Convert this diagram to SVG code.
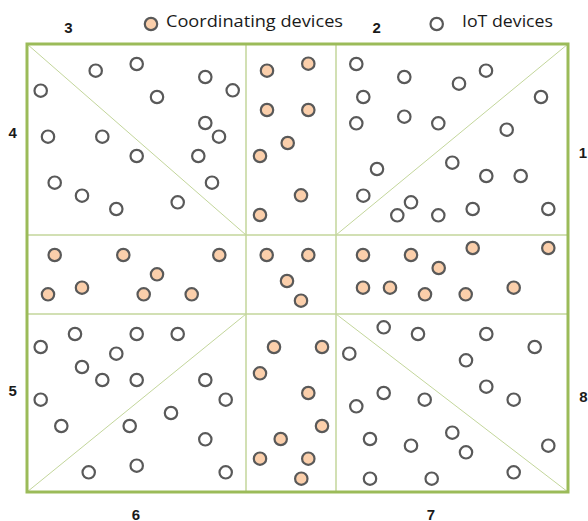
<svg xmlns="http://www.w3.org/2000/svg" width="588" height="521" viewBox="0 0 588 521">
<style>
.io{fill:#ffffff;stroke:#595959;stroke-width:2.2}
.co{fill:#fbcfab;stroke:#595959;stroke-width:2.2}
.lab{font-family:"Liberation Sans",Arial,sans-serif;font-weight:bold;font-size:15px;fill:#1a1a1a;text-anchor:middle}
.leg{font-family:"Open Sans","Liberation Sans",sans-serif;font-size:16px;fill:#1a1a1a}
.inner{stroke:#c3d69b;stroke-width:1.5;fill:none}
.diag{stroke:#c3d69b;stroke-width:1;fill:none}
</style>
<rect width="588" height="521" fill="#ffffff"/>
<g id="connectors">
<line class="diag" x1="27" y1="44" x2="246" y2="235"/>
<line class="diag" x1="336" y1="235" x2="568" y2="44"/>
<line class="diag" x1="27" y1="492" x2="246" y2="314"/>
<line class="diag" x1="336" y1="314" x2="568" y2="492"/>
<line class="inner" x1="246" y1="44" x2="246" y2="492"/>
<line class="inner" x1="336" y1="44" x2="336" y2="492"/>
<line class="inner" x1="27" y1="235" x2="568" y2="235"/>
<line class="inner" x1="27" y1="314" x2="568" y2="314"/>
<rect x="27" y="44" width="541" height="448" fill="none" stroke="#9bbb59" stroke-width="3"/>
</g>
<g id="legend">
<circle class="co" cx="151" cy="24" r="6.2"/>
<text class="leg" x="166" y="26.5" textLength="177" lengthAdjust="spacingAndGlyphs">Coordinating devices</text>
<circle class="io" cx="436.7" cy="24" r="6.2"/>
<text class="leg" x="462" y="26.5" textLength="91" lengthAdjust="spacingAndGlyphs">IoT devices</text>
</g>
<g id="labels">
<text class="lab" x="68.3" y="32.5">3</text>
<text class="lab" x="376.7" y="32.5">2</text>
<text class="lab" x="12.7" y="138">4</text>
<text class="lab" x="583" y="158">1</text>
<text class="lab" x="12.7" y="395.5">5</text>
<text class="lab" x="583.3" y="401.5">8</text>
<text class="lab" x="136" y="519.5">6</text>
<text class="lab" x="431" y="519.5">7</text>
</g>
<g id="region3">
<circle class="io" cx="95.7" cy="70.7" r="6.2"/>
<circle class="io" cx="136.7" cy="64" r="6.2"/>
<circle class="io" cx="40.7" cy="90.7" r="6.2"/>
<circle class="io" cx="157" cy="97" r="6.2"/>
<circle class="io" cx="205.3" cy="77" r="6.2"/>
<circle class="io" cx="232.7" cy="90.3" r="6.2"/>
<circle class="io" cx="48" cy="136.7" r="6.2"/>
<circle class="io" cx="102.3" cy="136.7" r="6.2"/>
<circle class="io" cx="205.3" cy="123" r="6.2"/>
<circle class="io" cx="219" cy="136.7" r="6.2"/>
<circle class="io" cx="136.7" cy="156" r="6.2"/>
<circle class="io" cx="198.3" cy="156" r="6.2"/>
<circle class="io" cx="54.7" cy="182.7" r="6.2"/>
<circle class="io" cx="212" cy="182.7" r="6.2"/>
<circle class="io" cx="82" cy="195.7" r="6.2"/>
<circle class="io" cx="116.3" cy="209" r="6.2"/>
<circle class="io" cx="177.7" cy="202.3" r="6.2"/>
</g>
<g id="coord-top">
<circle class="co" cx="267" cy="70.7" r="6.2"/>
<circle class="co" cx="308.3" cy="63.7" r="6.2"/>
<circle class="co" cx="267" cy="110" r="6.2"/>
<circle class="co" cx="308.3" cy="110" r="6.2"/>
<circle class="co" cx="287.7" cy="143" r="6.2"/>
<circle class="co" cx="260" cy="156" r="6.2"/>
<circle class="co" cx="301" cy="195.3" r="6.2"/>
<circle class="co" cx="260" cy="215" r="6.2"/>
</g>
<g id="region2-1">
<circle class="io" cx="356.3" cy="64" r="6.2"/>
<circle class="io" cx="404.3" cy="77" r="6.2"/>
<circle class="io" cx="459" cy="83.7" r="6.2"/>
<circle class="io" cx="486" cy="70.7" r="6.2"/>
<circle class="io" cx="363.3" cy="97" r="6.2"/>
<circle class="io" cx="541" cy="97" r="6.2"/>
<circle class="io" cx="356.3" cy="123.3" r="6.2"/>
<circle class="io" cx="404.3" cy="116.7" r="6.2"/>
<circle class="io" cx="438.3" cy="123.3" r="6.2"/>
<circle class="io" cx="506.7" cy="129.7" r="6.2"/>
<circle class="io" cx="377" cy="169" r="6.2"/>
<circle class="io" cx="452.3" cy="162.7" r="6.2"/>
<circle class="io" cx="486.3" cy="176" r="6.2"/>
<circle class="io" cx="520.7" cy="176" r="6.2"/>
<circle class="io" cx="363.3" cy="195.7" r="6.2"/>
<circle class="io" cx="411" cy="202.3" r="6.2"/>
<circle class="io" cx="397.3" cy="215.3" r="6.2"/>
<circle class="io" cx="438.3" cy="215.3" r="6.2"/>
<circle class="io" cx="472.7" cy="209" r="6.2"/>
<circle class="io" cx="548.3" cy="209" r="6.2"/>
</g>
<g id="coord-middle">
<circle class="co" cx="54.7" cy="255" r="6.2"/>
<circle class="co" cx="123.3" cy="255" r="6.2"/>
<circle class="co" cx="219.3" cy="255" r="6.2"/>
<circle class="co" cx="157" cy="274.3" r="6.2"/>
<circle class="co" cx="48" cy="294.3" r="6.2"/>
<circle class="co" cx="82" cy="287.7" r="6.2"/>
<circle class="co" cx="143.7" cy="294.3" r="6.2"/>
<circle class="co" cx="191.7" cy="294.3" r="6.2"/>
<circle class="co" cx="266.7" cy="255" r="6.2"/>
<circle class="co" cx="308.3" cy="255" r="6.2"/>
<circle class="co" cx="287" cy="281" r="6.2"/>
<circle class="co" cx="301" cy="300.7" r="6.2"/>
<circle class="co" cx="363" cy="255" r="6.2"/>
<circle class="co" cx="411" cy="255" r="6.2"/>
<circle class="co" cx="472.7" cy="248" r="6.2"/>
<circle class="co" cx="548.3" cy="248" r="6.2"/>
<circle class="co" cx="438.7" cy="268" r="6.2"/>
<circle class="co" cx="363" cy="287.7" r="6.2"/>
<circle class="co" cx="390" cy="287.7" r="6.2"/>
<circle class="co" cx="425" cy="294.3" r="6.2"/>
<circle class="co" cx="465.7" cy="294.3" r="6.2"/>
<circle class="co" cx="513.7" cy="287.7" r="6.2"/>
</g>
<g id="region5-6">
<circle class="io" cx="75" cy="334" r="6.2"/>
<circle class="io" cx="136.7" cy="334" r="6.2"/>
<circle class="io" cx="177.7" cy="334" r="6.2"/>
<circle class="io" cx="40.7" cy="347" r="6.2"/>
<circle class="io" cx="116.3" cy="353.7" r="6.2"/>
<circle class="io" cx="82" cy="367" r="6.2"/>
<circle class="io" cx="102.3" cy="380" r="6.2"/>
<circle class="io" cx="136.7" cy="380" r="6.2"/>
<circle class="io" cx="205.3" cy="380" r="6.2"/>
<circle class="io" cx="40.7" cy="399.7" r="6.2"/>
<circle class="io" cx="225.7" cy="399.7" r="6.2"/>
<circle class="io" cx="61.3" cy="426" r="6.2"/>
<circle class="io" cx="129.7" cy="426" r="6.2"/>
<circle class="io" cx="171" cy="413" r="6.2"/>
<circle class="io" cx="205.3" cy="439.3" r="6.2"/>
<circle class="io" cx="88.7" cy="472.3" r="6.2"/>
<circle class="io" cx="136.7" cy="465.7" r="6.2"/>
<circle class="io" cx="225.7" cy="472.3" r="6.2"/>
</g>
<g id="coord-bottom">
<circle class="co" cx="274" cy="347" r="6.2"/>
<circle class="co" cx="322" cy="347" r="6.2"/>
<circle class="co" cx="260" cy="373.3" r="6.2"/>
<circle class="co" cx="308.3" cy="393" r="6.2"/>
<circle class="co" cx="322" cy="426" r="6.2"/>
<circle class="co" cx="280.7" cy="439" r="6.2"/>
<circle class="co" cx="260" cy="458.7" r="6.2"/>
<circle class="co" cx="308.3" cy="458.7" r="6.2"/>
<circle class="co" cx="301.3" cy="478.7" r="6.2"/>
</g>
<g id="region7-8">
<circle class="io" cx="383.7" cy="327.3" r="6.2"/>
<circle class="io" cx="418" cy="334" r="6.2"/>
<circle class="io" cx="486.3" cy="334" r="6.2"/>
<circle class="io" cx="534.7" cy="347" r="6.2"/>
<circle class="io" cx="349.3" cy="353.7" r="6.2"/>
<circle class="io" cx="466" cy="360.3" r="6.2"/>
<circle class="io" cx="383.7" cy="393" r="6.2"/>
<circle class="io" cx="486.3" cy="386.7" r="6.2"/>
<circle class="io" cx="356.3" cy="406.3" r="6.2"/>
<circle class="io" cx="424.7" cy="399.7" r="6.2"/>
<circle class="io" cx="513.7" cy="399.7" r="6.2"/>
<circle class="io" cx="370" cy="439" r="6.2"/>
<circle class="io" cx="411" cy="445.7" r="6.2"/>
<circle class="io" cx="452.3" cy="432.7" r="6.2"/>
<circle class="io" cx="466" cy="452.3" r="6.2"/>
<circle class="io" cx="548.3" cy="445.7" r="6.2"/>
<circle class="io" cx="370" cy="478.7" r="6.2"/>
<circle class="io" cx="431.7" cy="478.7" r="6.2"/>
<circle class="io" cx="513.7" cy="472.3" r="6.2"/>
</g>
</svg>
